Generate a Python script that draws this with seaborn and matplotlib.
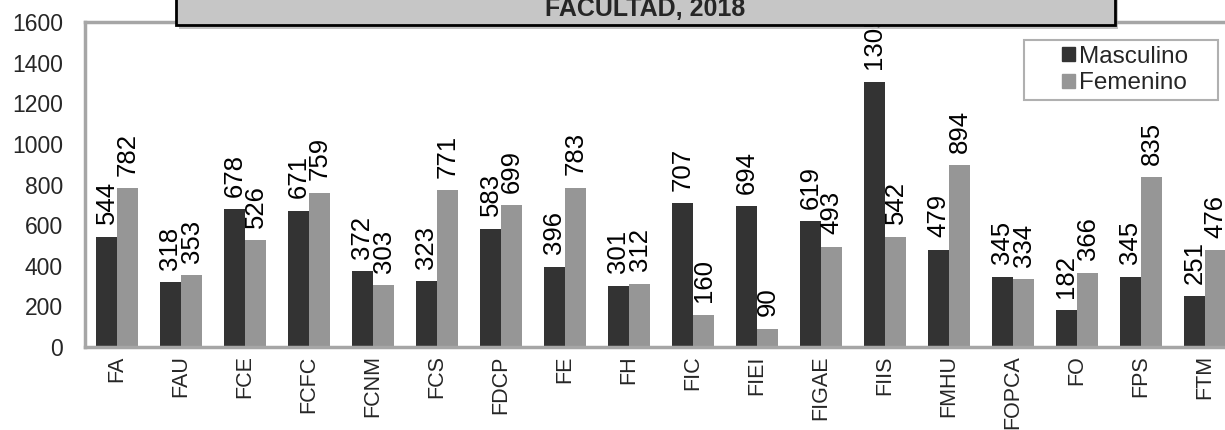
import matplotlib
matplotlib.use("Agg")
import matplotlib.pyplot as plt
from matplotlib.patches import Rectangle
import seaborn as sns
import pandas as pd

faculties = ["FA", "FAU", "FCE", "FCFC", "FCNM", "FCS", "FDCP", "FE", "FH",
             "FIC", "FIEI", "FIGAE", "FIIS", "FMHU", "FOPCA", "FO", "FPS", "FTM"]
masculino = [544, 318, 678, 671, 372, 323, 583, 396, 301,
             707, 694, 619, 1305, 479, 345, 182, 345, 251]
femenino = [782, 353, 526, 759, 303, 771, 699, 783, 312,
            160, 90, 493, 542, 894, 334, 366, 835, 476]
series = ["Masculino", "Femenino"]
colors = ["#333333", "#969696"]
yticks = [0, 200, 400, 600, 800, 1000, 1200, 1400, 1600]
title_line = "FACULTAD, 2018"

sns.set_style("white")
plt.rcParams["font.family"] = ["Liberation Sans", "DejaVu Sans"]

df = pd.DataFrame({
    "Facultad": faculties * 2,
    "Sexo": [series[0]] * len(faculties) + [series[1]] * len(faculties),
    "Alumnos": masculino + femenino,
})

W, H = 1225, 430
fig = plt.figure(figsize=(W / 100, H / 100), dpi=100)
ax = fig.add_axes([85 / W, 1 - 347 / H, 1152 / W, 325 / H])

sns.barplot(data=df, x="Facultad", y="Alumnos", hue="Sexo", order=faculties,
            hue_order=series, palette=colors, width=0.66, saturation=1,
            edgecolor="none", legend=False, ax=ax)

# value labels on top of each bar
for cont in ax.containers:
    for bar in cont:
        h = bar.get_height()
        ax.annotate(f"{h:.0f}", (bar.get_x() + bar.get_width() / 2, h),
                    xytext=(0, 9), textcoords="offset points",
                    rotation=90, ha="center", va="bottom", fontsize=18.5,
                    color="black", annotation_clip=False, zorder=3)

ax.set_xlim(-0.5, len(faculties) - 0.5)
ax.set_ylim(0, 1600)
ax.set_yticks(yticks)
ax.set_yticklabels([str(t) for t in yticks], fontsize=16.5)
ax.set_xticks(range(len(faculties)))
ax.set_xticklabels(faculties, rotation=90, fontsize=15.5)
ax.set_xticks([i + 0.5 for i in range(-1, len(faculties))], minor=True)
ax.tick_params(axis="x", which="major", length=0, pad=6)
ax.tick_params(axis="x", which="minor", length=8, width=1.5, color="#a0a0a0")
ax.tick_params(axis="y", length=7, width=1.5, color="#a0a0a0", pad=9)
ax.set_xlabel("")
ax.set_ylabel("")
for side in ["left", "top", "bottom", "right"]:
    ax.spines[side].set_color("#a6a6a6")
    ax.spines[side].set_linewidth(2.5)

# legend: frame drawn separately so it can be wider than its content
fig.patches.append(Rectangle((1024 / W, 1 - 100 / H), 194 / W, 60 / H,
                             transform=fig.transFigure, facecolor="white",
                             edgecolor="#b0b0b0", linewidth=1.5, zorder=4))
handles = [Rectangle((0, 0), 1, 1, color=c) for c in colors]
leg = fig.legend(handles, series, loc="center",
                 bbox_to_anchor=(1125 / W, 1 - 70 / H), fontsize=17.5,
                 frameon=False, handlelength=0.55, handleheight=0.55,
                 handletextpad=0.15, labelspacing=0.2, borderpad=0,
                 borderaxespad=0)
leg.set_zorder(5)

# title box (partially cut at top)
x0, x1, yb = 176 / W, 1115 / W, 1 - 25 / H
fig.patches.append(Rectangle((x0 + 3 / W, yb - 4 / H), x1 - x0, 0.2,
                             transform=fig.transFigure, facecolor="#9a9a9a",
                             edgecolor="none", alpha=0.6, zorder=5))
fig.patches.append(Rectangle((x0, yb), x1 - x0, 0.2,
                             transform=fig.transFigure, facecolor="#c6c6c6",
                             edgecolor="black", linewidth=2, zorder=6))
fig.text((x0 + x1) / 2, 1 - 16 / H, title_line, ha="center", va="baseline",
         fontsize=18, fontweight="bold", zorder=7)

fig.savefig("out.png", dpi=100)
